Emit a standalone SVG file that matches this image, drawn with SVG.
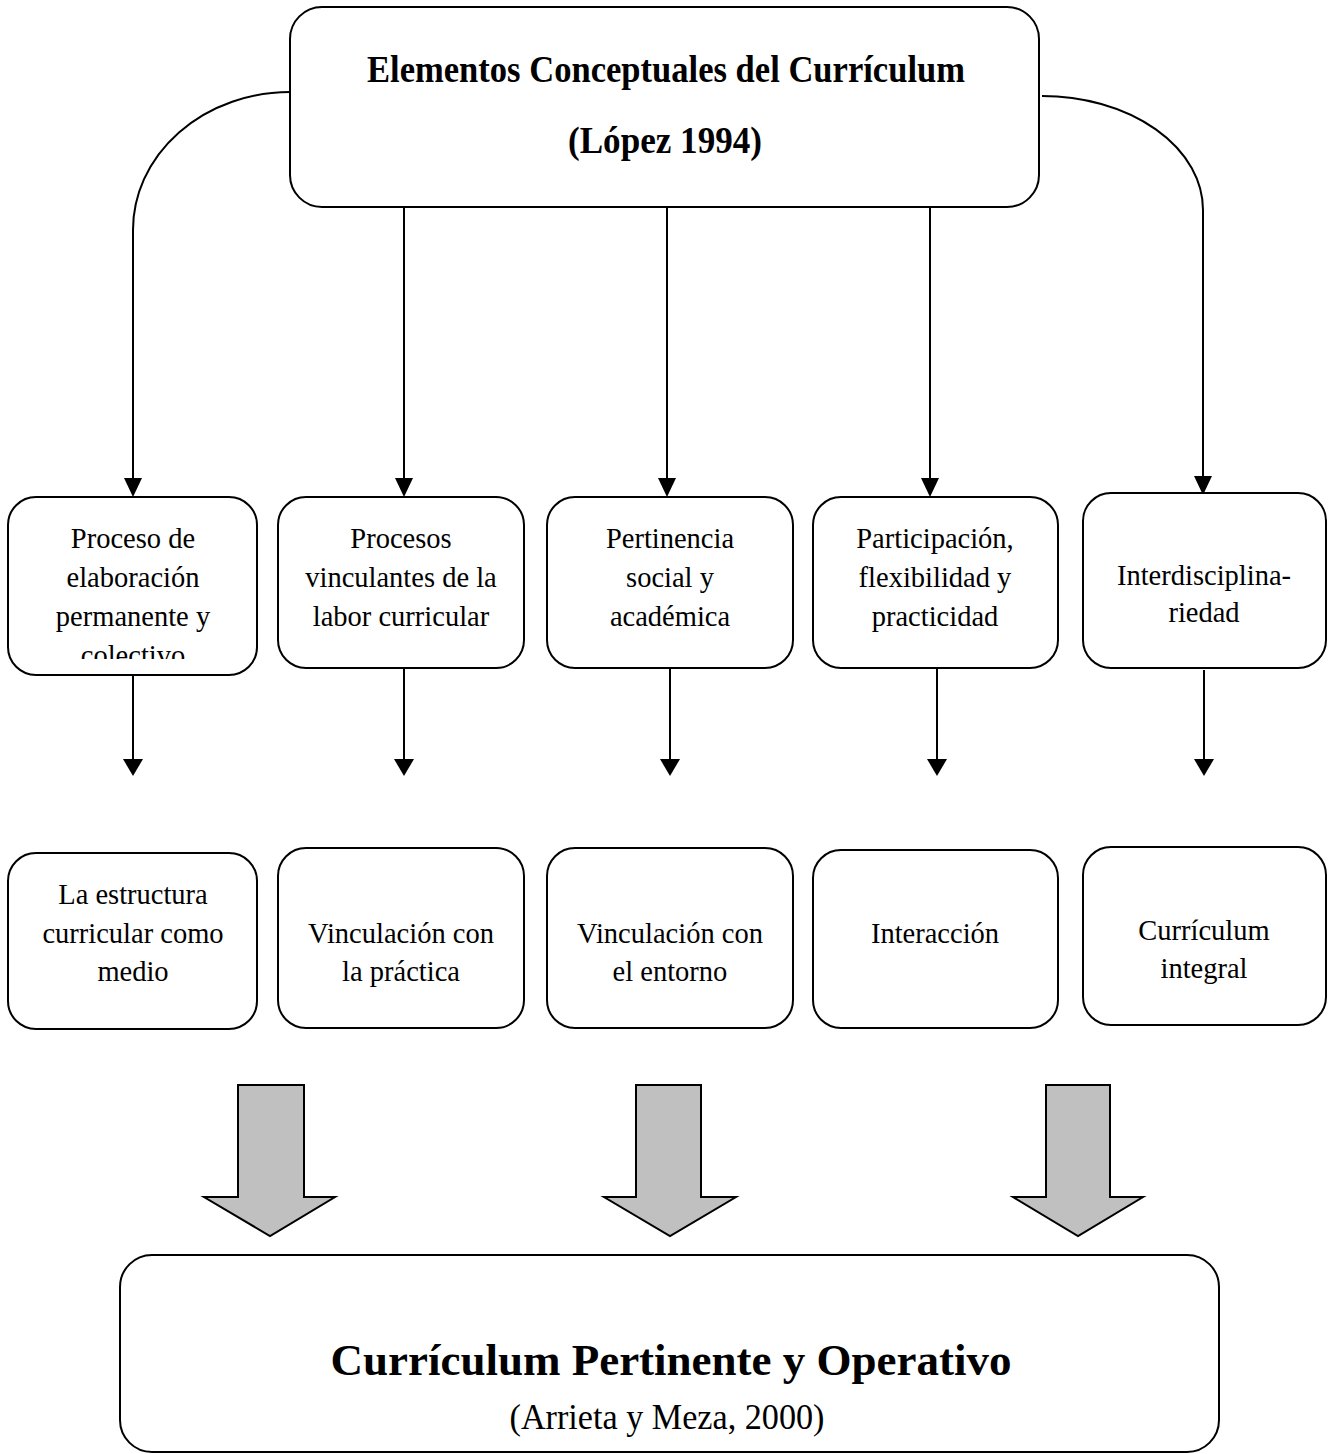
<svg xmlns="http://www.w3.org/2000/svg" width="1329" height="1454" viewBox="0 0 1329 1454">
<style>
.box{fill:#fff;stroke:#000;stroke-width:2}
.ln{fill:none;stroke:#000;stroke-width:2}
.ah{fill:#000}
.big{fill:#c0c0c0;stroke:#000;stroke-width:2}
text{font-family:"Liberation Serif","Times New Roman",serif;fill:#000;text-anchor:middle}
.t{font-size:28.5px}
.hb{font-size:37px;font-weight:bold}
</style>
<defs>
<clipPath id="clip1"><rect x="8" y="497" width="249" height="162"/></clipPath>
</defs>
<g id="connectors">
<path class="ln" d="M290,92 A157,138 0 0 0 133,230 L133,482"/>
<path class="ln" d="M1042,96 A161,114 0 0 1 1203,210 L1203,482"/>
<line class="ln" x1="404" y1="207" x2="404" y2="482"/>
<line class="ln" x1="667" y1="207" x2="667" y2="482"/>
<line class="ln" x1="930" y1="207" x2="930" y2="482"/>
<polygon class="ah" points="124,478 142,478 133,497"/>
<polygon class="ah" points="395,478 413,478 404,497"/>
<polygon class="ah" points="658,478 676,478 667,497"/>
<polygon class="ah" points="921,478 939,478 930,497"/>
<polygon class="ah" points="1194,476 1212,476 1203,495"/>
<line class="ln" x1="133" y1="675" x2="133" y2="762"/>
<line class="ln" x1="404" y1="668" x2="404" y2="762"/>
<line class="ln" x1="670" y1="668" x2="670" y2="762"/>
<line class="ln" x1="937" y1="668" x2="937" y2="762"/>
<line class="ln" x1="1204" y1="670" x2="1204" y2="762"/>
<polygon class="ah" points="123,759 143,759 133,776"/>
<polygon class="ah" points="394,759 414,759 404,776"/>
<polygon class="ah" points="660,759 680,759 670,776"/>
<polygon class="ah" points="927,759 947,759 937,776"/>
<polygon class="ah" points="1194,759 1214,759 1204,776"/>
<polygon class="big" points="238,1085 304,1085 304,1197 335,1197 270,1236 204,1197 238,1197"/>
<polygon class="big" points="636,1085 701,1085 701,1197 736,1197 670,1236 604,1197 636,1197"/>
<polygon class="big" points="1046,1085 1110,1085 1110,1197 1143,1197 1078,1236 1013,1197 1046,1197"/>
</g>
<g id="top">
<rect class="box" x="290" y="7" width="749" height="200" rx="32"/>
<text class="hb" x="666" y="82" textLength="598" lengthAdjust="spacingAndGlyphs">Elementos Conceptuales del Currículum</text>
<text class="hb" x="665" y="153" textLength="194" lengthAdjust="spacingAndGlyphs">(López 1994)</text>
</g>
<g id="n1">
<rect class="box" x="8" y="497" width="249" height="178" rx="28"/>
<g clip-path="url(#clip1)">
<text class="t" x="133" y="548">Proceso de</text>
<text class="t" x="133" y="587">elaboración</text>
<text class="t" x="133" y="626">permanente y</text>
<text class="t" x="133" y="665">colectivo</text>
</g>
</g>
<g id="n2">
<rect class="box" x="278" y="497" width="246" height="171" rx="28"/>
<text class="t" x="401" y="548">Procesos</text>
<text class="t" x="401" y="587">vinculantes de la</text>
<text class="t" x="401" y="626">labor curricular</text>
</g>
<g id="n3">
<rect class="box" x="547" y="497" width="246" height="171" rx="28"/>
<text class="t" x="670" y="548">Pertinencia</text>
<text class="t" x="670" y="587">social y</text>
<text class="t" x="670" y="626">académica</text>
</g>
<g id="n4">
<rect class="box" x="813" y="497" width="245" height="171" rx="28"/>
<text class="t" x="935" y="548">Participación,</text>
<text class="t" x="935" y="587">flexibilidad y</text>
<text class="t" x="935" y="626">practicidad</text>
</g>
<g id="n5">
<rect class="box" x="1083" y="493" width="243" height="175" rx="28"/>
<text class="t" x="1204" y="585">Interdisciplina-</text>
<text class="t" x="1204" y="622">riedad</text>
</g>
<g id="m1">
<rect class="box" x="8" y="853" width="249" height="176" rx="28"/>
<text class="t" x="133" y="904">La estructura</text>
<text class="t" x="133" y="943">curricular como</text>
<text class="t" x="133" y="981">medio</text>
</g>
<g id="m2">
<rect class="box" x="278" y="848" width="246" height="180" rx="28"/>
<text class="t" x="401" y="943">Vinculación con</text>
<text class="t" x="401" y="981">la práctica</text>
</g>
<g id="m3">
<rect class="box" x="547" y="848" width="246" height="180" rx="28"/>
<text class="t" x="670" y="943">Vinculación con</text>
<text class="t" x="670" y="981">el entorno</text>
</g>
<g id="m4">
<rect class="box" x="813" y="850" width="245" height="178" rx="28"/>
<text class="t" x="935" y="943">Interacción</text>
</g>
<g id="m5">
<rect class="box" x="1083" y="847" width="243" height="178" rx="28"/>
<text class="t" x="1204" y="940">Currículum</text>
<text class="t" x="1204" y="978">integral</text>
</g>
<g id="bottom">
<rect class="box" x="120" y="1255" width="1099" height="197" rx="32"/>
<text x="671" y="1375" style="font-size:45px;font-weight:bold">Currículum Pertinente y Operativo</text>
<text x="667" y="1429" style="font-size:35px" textLength="315" lengthAdjust="spacingAndGlyphs">(Arrieta y Meza, 2000)</text>
</g>
</svg>
